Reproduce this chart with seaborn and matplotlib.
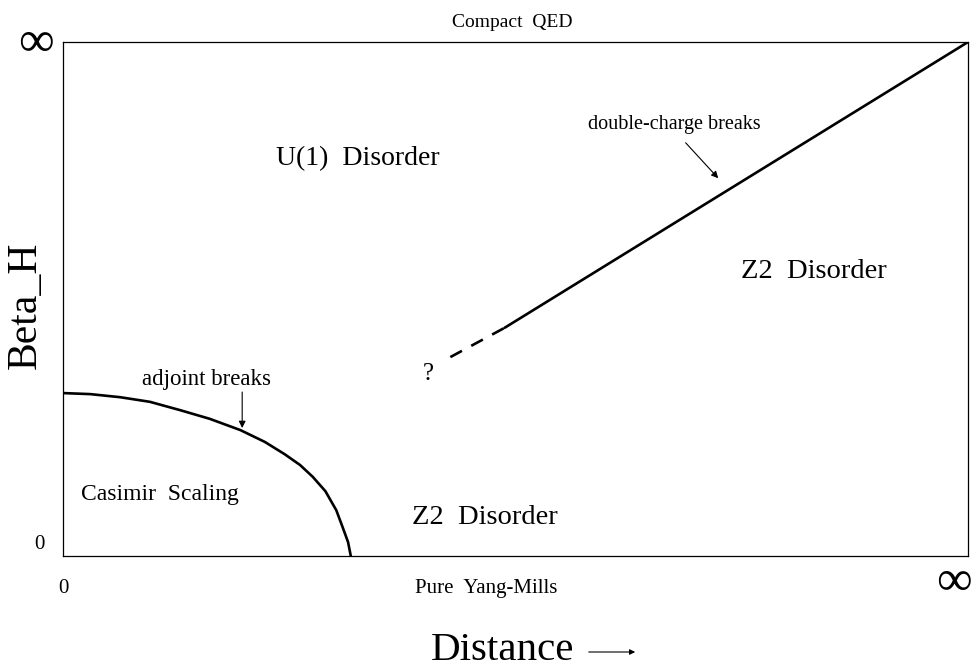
import matplotlib
matplotlib.use("Agg")
import matplotlib.pyplot as plt
from matplotlib.patches import FancyArrowPatch
import seaborn as sns
import pandas as pd

# phase boundaries, in fractions of the axis range (0 .. infinity)
adjoint_x = [0.0, 0.030, 0.063, 0.096, 0.129, 0.162, 0.196, 0.223, 0.245,
             0.262, 0.276, 0.290, 0.302, 0.309, 0.315, 0.318]
adjoint_y = [0.317, 0.315, 0.309, 0.300, 0.284, 0.267, 0.245, 0.222, 0.198,
             0.177, 0.154, 0.126, 0.089, 0.056, 0.027, 0.0]
double_x = [0.488, 1.0]
double_y = [0.444, 1.0]
guess_x = [0.428, 0.488]
guess_y = [0.387, 0.444]

region_labels = ["U(1)  Disorder", "Z2  Disorder", "Z2  Disorder", "Casimir  Scaling"]
region_x = [0.326, 0.830, 0.466, 0.107]
region_y = [0.774, 0.554, 0.074, 0.119]

sns.set_theme(style="white")
plt.rcParams["font.family"] = ["Liberation Serif", "DejaVu Serif"]
plt.rcParams["text.color"] = "black"

fig = plt.figure(figsize=(9.72, 6.67), dpi=100)
ax = fig.add_axes([0.0648, 0.1664, 0.9311, 0.7706])

adj = pd.DataFrame({"x": adjoint_x, "y": adjoint_y})
dbl = pd.DataFrame({"x": double_x, "y": double_y})
gss = pd.DataFrame({"x": guess_x, "y": guess_y})
sns.lineplot(data=adj, x="x", y="y", sort=False, color="black", lw=1.9, ax=ax)
sns.lineplot(data=dbl, x="x", y="y", sort=False, color="black", lw=1.9, ax=ax)
sns.lineplot(data=gss, x="x", y="y", sort=False, color="black", lw=1.9,
             linestyle=(0, (5, 4)), ax=ax)

ax.set_xlim(0, 1)
ax.set_ylim(0, 1)
ax.set_xticks([])
ax.set_yticks([])
ax.set_xlabel("")
ax.set_ylabel("")
for s in ax.spines.values():
    s.set_color("black")
    s.set_linewidth(0.9)

sizes = [20, 20.5, 20.5, 17]
for lab, x, y, fs in zip(region_labels, region_x, region_y, sizes):
    ax.text(x, y, lab, ha="center", va="center", fontsize=fs)

ax.text(0.404, 0.354, "?", ha="center", va="center", fontsize=18)

# labelled arrows
ax.text(0.159, 0.344, "adjoint breaks", ha="center", va="center", fontsize=16.5)
ax.annotate("", xy=(0.198, 0.249), xytext=(0.198, 0.319),
            arrowprops=dict(arrowstyle="-|>", color="black", lw=0.8,
                            shrinkA=0, shrinkB=0, mutation_scale=10))
ax.text(0.676, 0.839, "double-charge breaks", ha="center", va="center", fontsize=14.5)
ax.annotate("", xy=(0.724, 0.735), xytext=(0.688, 0.804),
            arrowprops=dict(arrowstyle="-|>", color="black", lw=0.8,
                            shrinkA=0, shrinkB=0, mutation_scale=10))

fig.text(0.527, 0.967, "Compact  QED", ha="center", va="center", fontsize=14)
fig.text(0.500, 0.118, "Pure  Yang-Mills", ha="center", va="center", fontsize=15)
fig.text(0.041, 0.184, "0", ha="center", va="center", fontsize=15)
fig.text(0.065, 0.118, "0", ha="center", va="center", fontsize=15)
fig.text(0.037, 0.934, "∞", ha="center", va="center", fontsize=36)
fig.text(0.981, 0.126, "∞", ha="center", va="center", fontsize=36)
fig.text(0.026, 0.543, "Beta_H", ha="center", va="center", fontsize=30, rotation=90)
fig.text(0.517, 0.025, "Distance", ha="center", va="center", fontsize=29.5)
fig.add_artist(FancyArrowPatch(
    (586 / 972, 1 - 652 / 667), (638 / 972, 1 - 652 / 667),
    transform=fig.transFigure, arrowstyle="-|>", color="black",
    lw=0.8, mutation_scale=8))

fig.savefig("out.png", dpi=100)
